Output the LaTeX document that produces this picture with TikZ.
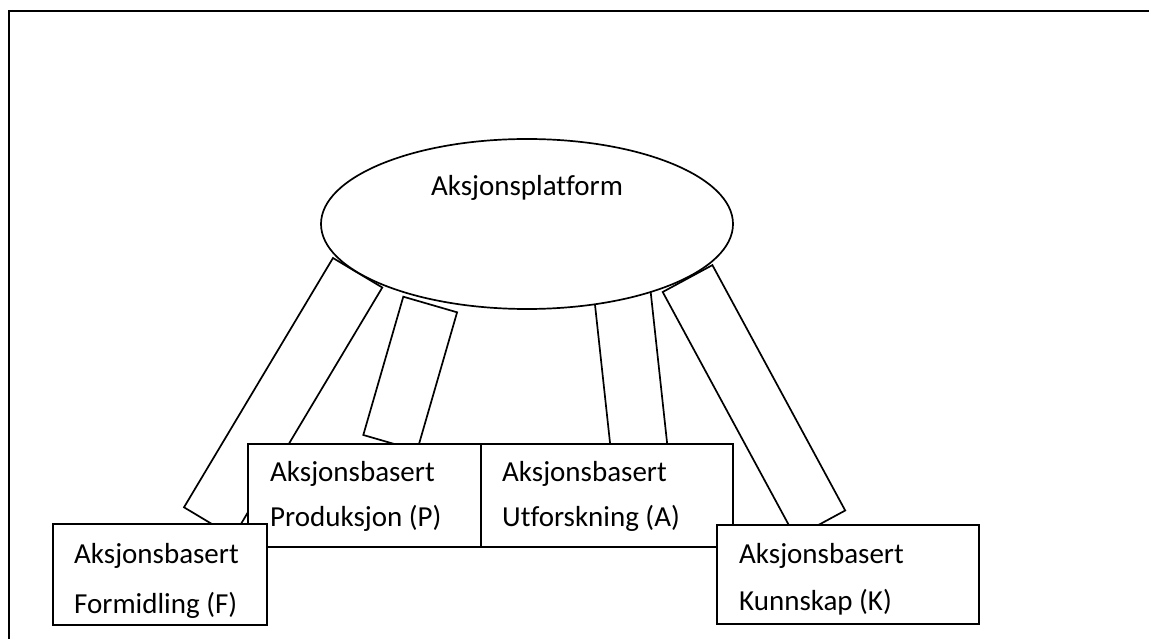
\documentclass[tikz,border=0pt]{standalone}
\usepackage{fontspec}
\setmainfont{Carlito}[Ligatures=NoCommon]
\usetikzlibrary{shapes.geometric}
\begin{document}
\begin{tikzpicture}[x=1pt,y=-1pt,
  outline/.style={draw=black, line width=1.7pt},
  band/.style={outline, fill=white, line join=miter},
  box/.style={outline, fill=white, rectangle, anchor=north west, inner sep=0pt, outer sep=0pt},
  platform/.style={outline, fill=white, ellipse, inner sep=0pt, outer sep=0pt,
    minimum width=412pt, minimum height=170pt},
  boxtext/.style={anchor=base west, inner sep=0pt, font=\fontsize{29}{35}\selectfont},
  titletext/.style={anchor=base, inner sep=0pt, font=\fontsize{29}{35}\selectfont},
]
\useasboundingbox (0,0) rectangle (1149,639);

% frame
\draw[line width=2.5pt] (9,639) -- (9,11) -- (1149,11);

% bands joining the platform to the four blocks
\coordinate (bf1) at (333,258);
\coordinate (bf2) at (382.3,287.5);
\coordinate (bf3) at (233.3,536.8);
\coordinate (bf4) at (184,507.3);
\draw[band] (bf1) -- (bf2) -- (bf3) -- (bf4) -- cycle;

\coordinate (bp1) at (403.3,296.7);
\coordinate (bp2) at (457.1,312.3);
\coordinate (bp3) at (417.1,450.6);
\coordinate (bp4) at (363.3,435);
\draw[band] (bp1) -- (bp2) -- (bp3) -- (bp4) -- cycle;

\coordinate (ba1) at (590.7,265.2);
\coordinate (ba2) at (647.1,259.1);
\coordinate (ba3) at (669.8,467.9);
\coordinate (ba4) at (613.4,474);
\draw[band] (ba1) -- (ba2) -- (ba3) -- (ba4) -- cycle;

\coordinate (bk1) at (662.7,292);
\coordinate (bk2) at (712.4,265.1);
\coordinate (bk3) at (845.2,510.5);
\coordinate (bk4) at (795.5,537.4);
\draw[band] (bk1) -- (bk2) -- (bk3) -- (bk4) -- cycle;

% platform
\node[platform] (plat) at (527,224) {};
\node[titletext] (plattxt) at (527,196) {Aksjonsplatform};

% blocks
\node[box, minimum width=233pt, minimum height=103pt] (P) at (248,444) {};
\node[box, minimum width=252pt, minimum height=103pt] (A) at (481,444) {};
\node[box, minimum width=214pt, minimum height=101pt] (F) at (53,524) {};
\node[box, minimum width=262pt, minimum height=99pt] (K) at (717,525) {};

\node[boxtext] (p1) at (270,481.7) {Aksjonsbasert};
\node[boxtext] (p2) at (270,526) {Produksjon (P)};
\node[boxtext] (a1) at (502,481.7) {Aksjonsbasert};
\node[boxtext] (a2) at (502,526) {Utforskning (A)};
\node[boxtext] (f1) at (74,563.3) {Aksjonsbasert};
\node[boxtext] (f2) at (74,613) {Formidling (F)};
\node[boxtext] (k1) at (739,563.3) {Aksjonsbasert};
\node[boxtext] (k2) at (739,610.5) {Kunnskap (K)};
\end{tikzpicture}
\end{document}
